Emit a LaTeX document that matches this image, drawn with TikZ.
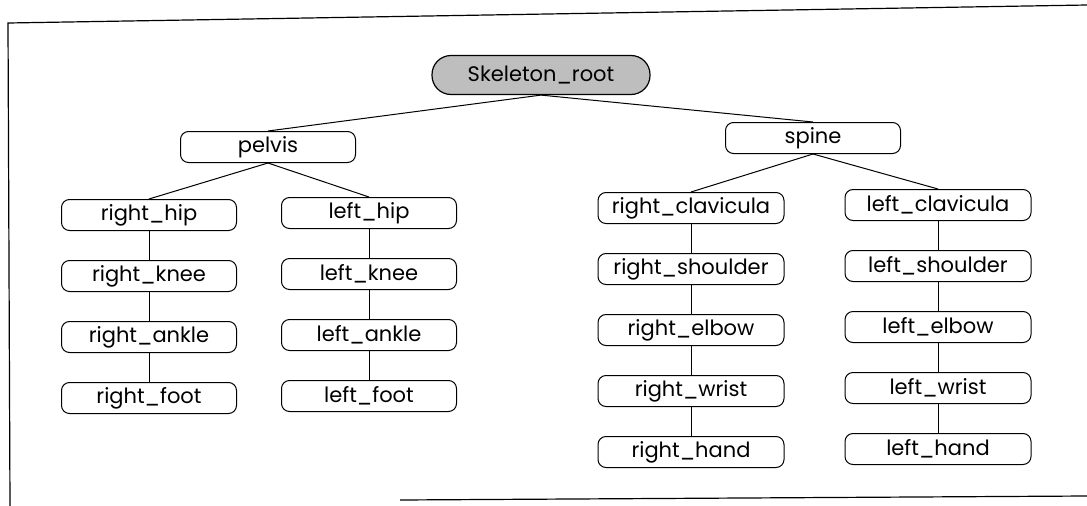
\documentclass[tikz,border=0pt]{standalone}
\usepackage{fontspec}
\setmainfont{Poppins}
\usetikzlibrary{positioning}
\definecolor{SKShade}{RGB}{190,190,190}

\begin{document}
\begin{tikzpicture}[
  x=1pt, y=-1pt,
  node distance=29pt,
  font=\fontsize{21}{24}\selectfont,
  joint/.style={rounded corners=8pt, draw, line width=1pt, minimum width=175pt, minimum height=31pt, inner sep=0pt},
  armjoint/.style={joint, minimum width=186pt},
  rootbox/.style={rounded corners=19pt, draw, line width=1.2pt, fill=SKShade, minimum width=218pt, minimum height=39pt, inner sep=0pt},
  link/.style={line width=1pt},
  frame/.style={line width=1.2pt}
]
\useasboundingbox (0,0) rectangle (1087,506);
% page frame
\draw[frame] (1087,5) -- (8,23) -- (10,506);
\draw[frame] (400,500) -- (1087,496);

\node[rootbox] (root) at (541,75) {Skeleton\_root};
\node[joint] (pelvis) at (268,147) {pelvis};
\node[joint] (spine) at (813,138) {spine};

% legs
\node[joint] (rhip) at (149,215) {right\_hip};
\node[joint, below=of rhip] (rknee) {right\_knee};
\node[joint, below=of rknee] (rankle) {right\_ankle};
\node[joint, below=of rankle] (rfoot) {right\_foot};
\node[joint] (lhip) at (369,213) {left\_hip};
\node[joint, below=of lhip] (lknee) {left\_knee};
\node[joint, below=of lknee] (lankle) {left\_ankle};
\node[joint, below=of lankle] (lfoot) {left\_foot};

% arms
\node[armjoint] (rclav) at (691,208) {right\_clavicula};
\node[armjoint, below=of rclav] (rshoulder) {right\_shoulder};
\node[armjoint, below=of rshoulder] (relbow) {right\_elbow};
\node[armjoint, below=of relbow] (rwrist) {right\_wrist};
\node[armjoint, below=of rwrist] (rhand) {right\_hand};
\node[armjoint] (lclav) at (938,205) {left\_clavicula};
\node[armjoint, below=of lclav] (lshoulder) {left\_shoulder};
\node[armjoint, below=of lshoulder] (lelbow) {left\_elbow};
\node[armjoint, below=of lelbow] (lwrist) {left\_wrist};
\node[armjoint, below=of lwrist] (lhand) {left\_hand};

\draw[link] (root.south) -- (pelvis.north);
\draw[link] (root.south) -- (spine.north);
\draw[link] (pelvis.south) -- (rhip.north);
\draw[link] (pelvis.south) -- (lhip.north);
\draw[link] (spine.south) -- (rclav.north);
\draw[link] (spine.south) -- (lclav.north);
\draw[link] (rhip) -- (rknee);
\draw[link] (rknee) -- (rankle);
\draw[link] (rankle) -- (rfoot);
\draw[link] (lhip) -- (lknee);
\draw[link] (lknee) -- (lankle);
\draw[link] (lankle) -- (lfoot);
\draw[link] (rclav) -- (rshoulder);
\draw[link] (rshoulder) -- (relbow);
\draw[link] (relbow) -- (rwrist);
\draw[link] (rwrist) -- (rhand);
\draw[link] (lclav) -- (lshoulder);
\draw[link] (lshoulder) -- (lelbow);
\draw[link] (lelbow) -- (lwrist);
\draw[link] (lwrist) -- (lhand);
\end{tikzpicture}
\end{document}
